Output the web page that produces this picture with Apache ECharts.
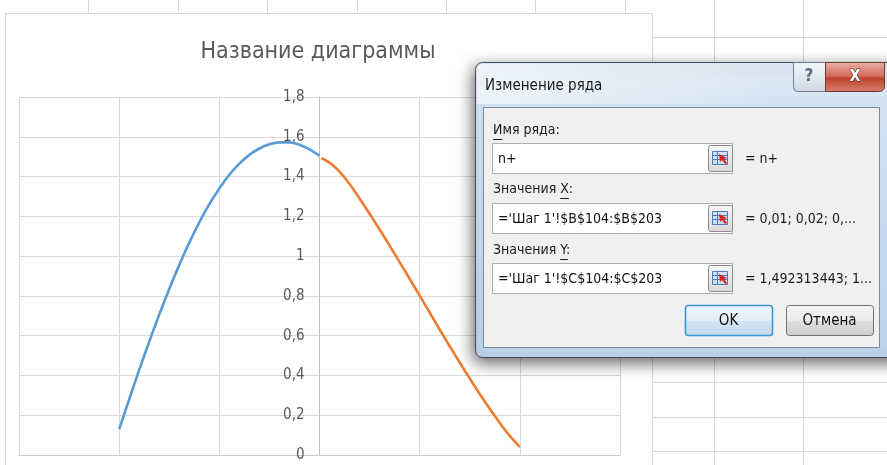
<!DOCTYPE html>
<html>
<head>
<meta charset="utf-8">
<script src="https://cdn.jsdelivr.net/npm/echarts@6/dist/echarts.min.js"></script>
<style>
html,body{margin:0;padding:0;background:#fff;}
#chart{width:887px;height:465px;}
</style>
</head>
<body>
<div id="chart"></div>
<script>
// ---- data ----
const chartTitle = 'Название диаграммы';
const blueName = 'n-';
const blueX = [-1.00,-0.95,-0.90,-0.85,-0.80,-0.75,-0.70,-0.65,-0.60,-0.55,-0.50,-0.45,-0.40,-0.35,-0.30,-0.25,-0.20,-0.15,-0.10,-0.05,0.00];
const blueY = [0.13,0.28,0.428,0.57,0.706,0.835,0.956,1.068,1.17,1.261,1.34,1.409,1.465,1.509,1.541,1.562,1.572,1.572,1.56,1.537,1.505];
const orangeName = 'n+';
const orangeX = [0.01,0.05,0.10,0.15,0.20,0.25,0.30,0.35,0.40,0.45,0.50,0.55,0.60,0.65,0.70,0.75,0.80,0.85,0.90,0.95,1.00];
const orangeY = [1.492,1.47,1.425,1.363,1.29,1.213,1.134,1.053,0.97,0.886,0.801,0.716,0.631,0.547,0.465,0.385,0.307,0.232,0.161,0.096,0.04];
const yTicks = [0, 0.2, 0.4, 0.6, 0.8, 1, 1.2, 1.4, 1.6, 1.8];
const xRange = [-1.5, 1.5];

// dialog texts
const dlgTitle = 'Изменение ряда';
const lblName = 'Имя ряда:';
const valName = 'n+';
const resName = '= n+';
const lblX = ['Значения ', 'X', ':'];
const valX = "='Шаг 1'!$B$104:$B$203";
const resX = '= 0,01; 0,02; 0,...';
const lblY = ['Значения ', 'Y', ':'];
const valY = "='Шаг 1'!$C$104:$C$203";
const resY = '= 1,492313443; 1...';
const btnOk = 'OK';
const btnCancel = 'Отмена';

const NARROW = "'Liberation Sans Narrow','DejaVu Sans Condensed','Roboto Condensed','DejaVu Sans',sans-serif";
const DLGFONT = "'Liberation Sans Narrow','DejaVu Sans Condensed','DejaVu Sans',sans-serif";

function zip(xs, ys){ return xs.map((x,i)=>[x, ys[i]]); }

const mctx = document.createElement('canvas').getContext('2d');
function tw(text, font){ mctx.font = font; return mctx.measureText(text).width; }

const G = [];
// spreadsheet cell lines (background)
const cellColor = '#d6d6d6';
[88,178,267,357,446,535,625].forEach(x=>G.push({type:'line',z:-10,shape:{x1:x+0.5,y1:0,x2:x+0.5,y2:13},style:{stroke:cellColor,lineWidth:1}}));
[714,803].forEach(x=>G.push({type:'line',z:-10,shape:{x1:x+0.5,y1:0,x2:x+0.5,y2:465},style:{stroke:cellColor,lineWidth:1}}));
for(let y=37; y<465; y+=34.5){ G.push({type:'line',z:-10,shape:{x1:652,y1:Math.round(y)+0.5,x2:887,y2:Math.round(y)+0.5},style:{stroke:cellColor,lineWidth:1}}); }
// chart object frame
G.push({type:'rect',z:-5,shape:{x:5.5,y:13.5,width:647,height:470},style:{fill:'#ffffff',stroke:'#d9d9d9',lineWidth:1}});

// ---- dialog ----
const DZ = 100;
G.push({type:'rect',z:DZ,shape:{x:475.5,y:62.5,width:430,height:295,r:7},
  style:{fill:{type:'linear',x:0,y:0,x2:0,y2:1,colorStops:[{offset:0,color:'#e3edf8'},{offset:0.15,color:'#d2e2f3'},{offset:1,color:'#bcd3ec'}]},
  stroke:'#444a52',lineWidth:1,shadowBlur:16,shadowColor:'rgba(0,0,0,0.6)',shadowOffsetX:-2,shadowOffsetY:5}});
G.push({type:'rect',z:DZ+1,shape:{x:477,y:64,width:300,height:40,r:[6,0,0,0]},
  style:{fill:{type:'linear',x:0,y:0,x2:1,y2:0,colorStops:[{offset:0,color:'rgba(255,255,255,0.55)'},{offset:1,color:'rgba(255,255,255,0)'}]}}});
G.push({type:'text',z:DZ+2,style:{text:dlgTitle,x:485,y:86,font:'15px '+DLGFONT,fill:'#1a1a1a',textAlign:'left',textVerticalAlign:'middle',align:'left',verticalAlign:'middle'}});
G.push({type:'rect',z:DZ+2,shape:{x:793.5,y:62.5,width:32,height:29,r:[0,0,0,4]},
  style:{fill:{type:'linear',x:0,y:0,x2:0,y2:1,colorStops:[{offset:0,color:'#f3f6fa'},{offset:0.5,color:'#e1e8f0'},{offset:1,color:'#cdd7e3'}]},stroke:'#707d8c',lineWidth:1}});
G.push({type:'text',z:DZ+3,style:{text:'?',x:809,y:77,font:'bold 17px '+DLGFONT,fill:'#5b6b80',textAlign:'center',textVerticalAlign:'middle',align:'center',verticalAlign:'middle'}});
G.push({type:'rect',z:DZ+2,shape:{x:825.5,y:62.5,width:59,height:29,r:[0,0,5,0]},
  style:{fill:{type:'linear',x:0,y:0,x2:0,y2:1,colorStops:[{offset:0,color:'#eab1a6'},{offset:0.45,color:'#d3705c'},{offset:0.55,color:'#c0442c'},{offset:1,color:'#d8826c'}]},stroke:'#6e3b33',lineWidth:1}});
G.push({type:'text',z:DZ+3,style:{text:'X',x:855,y:77,font:'bold 16px '+DLGFONT,fill:'#ffffff',stroke:'#5a2a22',lineWidth:1,textAlign:'center',textVerticalAlign:'middle',align:'center',verticalAlign:'middle'}});
G.push({type:'rect',z:DZ+1,shape:{x:483.5,y:107.5,width:396,height:240},style:{fill:'#f0f0f0',stroke:'#7d8a9a',lineWidth:1}});

const labelFont = '14px ' + DLGFONT;
function label(text, x, y){ G.push({type:'text',z:DZ+3,style:{text:text,x:x,y:y,font:labelFont,fill:'#1a1a1a',textAlign:'left',textVerticalAlign:'middle',align:'left',verticalAlign:'middle'}}); }
function underline(x1, x2, y){ G.push({type:'line',z:DZ+3,shape:{x1:x1,y1:y+0.5,x2:x2,y2:y+0.5},style:{stroke:'#1a1a1a',lineWidth:1}}); }
function pickIcon(x, y){
  G.push({type:'rect',z:DZ+4,shape:{x:x+0.5,y:y+0.5,width:24,height:26,r:2},style:{fill:{type:'linear',x:0,y:0,x2:0,y2:1,colorStops:[{offset:0,color:'#f6f6f6'},{offset:1,color:'#d9d9d9'}]},stroke:'#8a8a8a',lineWidth:1}});
  G.push({type:'rect',z:DZ+5,shape:{x:x+4.5,y:y+6.5,width:15,height:13},style:{fill:'#cfe0f5',stroke:'#4f79b3',lineWidth:1}});
  G.push({type:'line',z:DZ+5,shape:{x1:x+4,y1:y+10.5,x2:x+20,y2:y+10.5},style:{stroke:'#4f79b3',lineWidth:1}});
  G.push({type:'line',z:DZ+5,shape:{x1:x+4,y1:y+14.5,x2:x+20,y2:y+14.5},style:{stroke:'#4f79b3',lineWidth:1}});
  G.push({type:'line',z:DZ+5,shape:{x1:x+9.5,y1:y+7,x2:x+9.5,y2:y+20},style:{stroke:'#4f79b3',lineWidth:1}});
  G.push({type:'polygon',z:DZ+6,shape:{points:[[x+11,y+9],[x+19,y+13],[x+16,y+14],[x+19,y+18],[x+17,y+19],[x+14,y+15],[x+12,y+17]]},style:{fill:'#d8261c'}});
}
function inputBox(x, y, text){
  G.push({type:'rect',z:DZ+3,shape:{x:x+0.5,y:y+0.5,width:240,height:30},style:{fill:'#ffffff',stroke:'#abadb3',lineWidth:1}});
  G.push({type:'text',z:DZ+4,style:{text:text,x:x+6,y:y+16,font:labelFont,fill:'#111111',textAlign:'left',textVerticalAlign:'middle',align:'left',verticalAlign:'middle'}});
  pickIcon(x+216, y+2);
}
label(lblName, 493, 130);
underline(493, 493 + tw('И', labelFont), 139);
inputBox(492, 143, valName);
label(resName, 745, 159);
label(lblX.join(''), 493, 189);
(function(){ const a = 493 + tw(lblX[0], labelFont); underline(a, a + tw(lblX[1], labelFont), 198); })();
inputBox(492, 203, valX);
label(resX, 745, 219);
label(lblY.join(''), 493, 250);
(function(){ const a = 493 + tw(lblY[0], labelFont); underline(a, a + tw(lblY[1], labelFont), 259); })();
inputBox(492, 263, valY);
label(resY, 745, 279);
function button(x, y, w, h, text, focused){
  G.push({type:'rect',z:DZ+3,shape:{x:x+0.5,y:y+0.5,width:w,height:h,r:3},
    style:{fill:{type:'linear',x:0,y:0,x2:0,y2:1,colorStops:[{offset:0,color:focused?'#eef6fc':'#f4f4f4'},{offset:0.5,color:focused?'#e2eef8':'#ebebeb'},{offset:0.51,color:focused?'#d2e5f4':'#dddddd'},{offset:1,color:focused?'#c4dcef':'#cfcfcf'}]},
    stroke:focused?'#3d95d6':'#707070',lineWidth:focused?1.6:1}});
  G.push({type:'text',z:DZ+4,style:{text:text,x:x+w/2,y:y+h/2+1,font:'15px '+DLGFONT,fill:'#111111',textAlign:'center',textVerticalAlign:'middle',align:'center',verticalAlign:'middle'}});
}
button(685, 305, 87, 30, btnOk, true);
button(786, 305, 87, 30, btnCancel, false);

// plot geometry
const gridLeft = 19, gridWidth = 601;
const zeroOffset = -gridWidth * (0 - xRange[0]) / (xRange[1] - xRange[0]);

const chart = echarts.init(document.getElementById('chart'), null, {renderer:'canvas'});
chart.setOption({
  backgroundColor:'#ffffff',
  animation:false,
  title:{text:chartTitle,left:313,top:36,textAlign:'center',
    textStyle:{fontFamily:NARROW,fontSize:23,fontWeight:'normal',color:'#595959'}},
  grid:{left:gridLeft,width:gridWidth,top:97,bottom:10,containLabel:false,outerBoundsMode:'none'},
  xAxis:{type:'value',min:xRange[0],max:xRange[1],interval:0.5,
    axisLine:{show:true,onZero:false,lineStyle:{color:'#cccccc',width:1}},
    axisTick:{show:false},axisLabel:{show:false},
    splitLine:{show:true,lineStyle:{color:'#d9d9d9',width:1}}},
  yAxis:{type:'value',position:'left',offset:zeroOffset,min:yTicks[0],max:yTicks[yTicks.length-1],interval:0.2,
    axisLine:{show:true,onZero:false,lineStyle:{color:'#bfbfbf',width:1}},
    axisTick:{show:false},
    axisLabel:{margin:15,color:'#595959',fontSize:15,fontFamily:NARROW,
      formatter:function(v){ return String(Math.round(v*10)/10).replace('.', ','); }},
    splitLine:{show:true,lineStyle:{color:'#d9d9d9',width:1}}},
  series:[
    {name:blueName,type:'line',data:zip(blueX,blueY),smooth:0.3,showSymbol:false,
      lineStyle:{color:'#5B9BD5',width:2.6},itemStyle:{color:'#5B9BD5'}},
    {name:orangeName,type:'line',data:zip(orangeX,orangeY),smooth:0.3,showSymbol:false,
      lineStyle:{color:'#ED7D31',width:2.6},itemStyle:{color:'#ED7D31'}}
  ],
  graphic:G
});
</script>
</body>
</html>
